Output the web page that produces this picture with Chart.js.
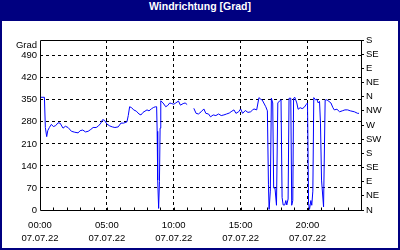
<!DOCTYPE html>
<html><head><meta charset="utf-8">
<script src="https://cdn.jsdelivr.net/npm/chart.js@4/dist/chart.umd.min.js"></script>
<style>
html,body{margin:0;padding:0;background:#000080;}
#page{position:relative;width:400px;height:250px;background:#000080;overflow:hidden}
#title{position:absolute;left:0;top:0;width:400px;height:20px;line-height:20px;text-align:center;color:#fff;font:bold 10.5px "Liberation Sans",Arial,sans-serif;}
#panel{position:absolute;left:2px;top:21px;width:396px;height:227px;background:#fff}
canvas{display:block}
</style></head>
<body>
<div id="page">
  <div id="title">Windrichtung [Grad]</div>
  <div id="panel"><canvas id="c" width="396" height="227"></canvas></div>
</div>
<script>
// time of day in hours (07.07.22)
const times = [
 0.00,0.33,0.40,0.50,0.58,0.70,0.85,1.00,1.17,1.35,1.50,1.72,1.90,2.10,2.35,2.60,2.85,3.00,3.20,3.40,
 3.60,3.80,3.97,4.20,4.37,4.55,4.68,4.82,5.00,5.22,5.40,5.60,5.85,6.05,6.25,6.50,6.60,6.70,6.85,7.00,
 7.20,7.40,7.55,7.70,7.85,8.00,8.15,8.35,8.50,8.65,8.72,8.76,8.80,8.87,8.93,8.98,9.03,9.20,9.40,9.55,
 9.70,9.85,10.00,10.15,10.35,10.50,10.70,10.85,11.00,11.17,11.50,11.67,11.85,12.05,12.25,12.40,12.60,12.75,12.95,13.15,
 13.35,13.55,13.75,13.95,14.15,14.35,14.50,14.65,14.85,15.00,15.15,15.35,15.55,15.75,15.90,16.00,16.20,16.37,16.50,16.62,
 16.88,17.00,17.08,17.13,17.22,17.30,17.40,17.47,17.57,17.68,17.78,17.90,18.02,18.10,18.18,18.30,18.38,18.45,18.55,18.62,
 18.75,18.82,18.90,18.96,19.05,19.20,19.30,19.45,19.60,19.75,19.90,20.00,20.08,20.15,20.25,20.32,20.40,20.47,20.60,20.70,
 20.80,20.90,20.97,21.05,21.20,21.32,21.45,21.60,21.75,21.90,22.00,22.20,22.40,22.60,22.80,23.00,23.20,23.50,23.75,23.85
];
// wind direction in degrees
const degrees = [
 358,358,262,233,252,262,272,265,268,277,276,260,266,262,250,247,245,252,254,248,
 250,256,262,262,267,276,287,285,273,267,264,262,264,276,276,280,300,328,325,318,
 314,305,302,310,314,318,315,322,326,328,328,250,95,5,90,260,347,340,328,332,
 340,338,336,340,346,333,338,340,335,null,323,307,305,312,321,307,305,296,302,300,
 305,300,302,305,308,314,318,307,312,321,307,316,310,312,318,321,318,357,352,349,
 328,315,80,2,60,355,340,70,70,15,340,346,350,40,16,16,30,16,35,355,
 355,15,30,355,358,340,320,325,322,326,335,340,20,2,30,15,60,357,350,352,
 340,345,276,95,10,349,350,345,340,325,318,320,312,315,318,318,315,312,307,307
];
const hourTicks = [0,5,10,15,20];
const hourLabels = ['00:00','05:00','10:00','15:00','20:00'];
const dateLabel = '07.07.22';
const gradTicks = [0,70,140,210,280,350,420,490];
const compassTicks = [0,45,90,135,180,225,270,315,360,405,450,495,540];
const compass = ['N','NE','E','SE','S','SW','W','NW'];
const axisName = 'Grad';

const FONT = {family:'"Liberation Sans", Arial, sans-serif', size:9.5};
const TXT = '#000000';

const extras = {
  id:'extras',
  afterDraw(chart){
    const {ctx, chartArea:a, scales} = chart;
    ctx.save();
    ctx.strokeStyle = '#000'; ctx.lineWidth = 1; ctx.setLineDash([]);
    const L = Math.round(a.left)+0.5, R = Math.round(a.right)+0.5, T = Math.round(a.top)+0.5, B = Math.round(a.bottom)+0.5;
    ctx.beginPath();
    ctx.moveTo(L,T); ctx.lineTo(R,T); ctx.lineTo(R,B); ctx.lineTo(L,B); ctx.closePath();
    ctx.stroke();
    // minor hour ticks on the time axis
    ctx.beginPath();
    for (let h = 1; h < 24; h++) {
      const x = Math.round(scales.x.getPixelForValue(h)) + 0.5;
      ctx.moveTo(x, B); ctx.lineTo(x, B - 3);
    }
    ctx.stroke();
    // axis name
    ctx.fillStyle = TXT;
    ctx.font = FONT.size + 'px ' + FONT.family;
    ctx.textAlign = 'right'; ctx.textBaseline = 'middle';
    ctx.fillText(axisName, a.left - 3, a.top + 5);
    ctx.restore();
  }
};

new Chart(document.getElementById('c'), {
  type:'line',
  data:{ datasets:[{
    data: times.map((t,i)=>({x:t, y:degrees[i]})),
    borderColor:'#0000ff', borderWidth:1, pointRadius:0, tension:0, spanGaps:false, fill:false
  }]},
  options:{
    responsive:false, animation:false, devicePixelRatio:1,
    layout:{padding:{top:19,left:0,right:0,bottom:0}},
    plugins:{legend:{display:false}, title:{display:false}, tooltip:{enabled:false}},
    scales:{
      x:{type:'linear', min:0, max:24,
        afterFit:s=>{s.height=38;},
        afterBuildTicks:s=>{s.ticks = hourTicks.concat([24]).map(v=>({value:v}));},
        ticks:{autoSkip:false, maxRotation:0, padding:8, color:TXT, font:{...FONT, lineHeight:1.45},
          callback:(v)=>{const i=hourTicks.indexOf(v); return i>=0?[hourLabels[i],dateLabel]:'';}},
        grid:{drawTicks:false, lineWidth:1,
          color:c=>(c.tick && c.tick.value>0 && c.tick.value<24)?'#000':'rgba(0,0,0,0)'},
        border:{display:false, dash:[3,3]}
      },
      y:{type:'linear', position:'left', min:0, max:540,
        afterFit:s=>{s.width=38;},
        afterBuildTicks:s=>{s.ticks = gradTicks.concat([540]).map(v=>({value:v}));},
        ticks:{autoSkip:false, padding:3, color:TXT, font:FONT, callback:v=>v===540?'':String(v)},
        grid:{drawTicks:false, lineWidth:1,
          color:c=>(c.tick && c.tick.value>0 && c.tick.value<540)?'#000':'rgba(0,0,0,0)'},
        border:{display:false, dash:[3,3]}
      },
      y2:{type:'linear', position:'right', min:0, max:540,
        afterFit:s=>{s.width=37;},
        afterBuildTicks:s=>{s.ticks = compassTicks.map(v=>({value:v}));},
        ticks:{autoSkip:false, padding:2, color:TXT, font:FONT, callback:v=>compass[Math.round(v/45)%8]},
        grid:{drawOnChartArea:false, drawTicks:true, tickLength:3, tickColor:'#000', tickWidth:1},
        border:{display:false}
      }
    }
  },
  plugins:[extras]
});
</script>
</body></html>
